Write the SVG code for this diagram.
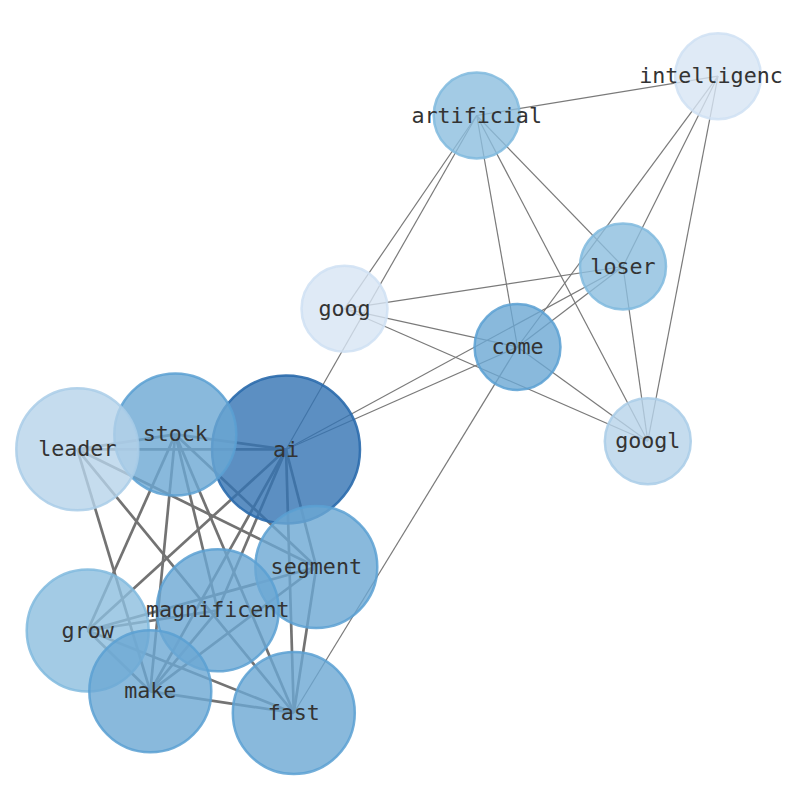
<svg xmlns="http://www.w3.org/2000/svg" width="794" height="790" viewBox="0 0 794 790">
<style>
.bg{fill:#ffffff}
.thin{stroke:#7a7a7a;stroke-width:1.2;fill:none}
.thick{stroke:#737373;stroke-width:2.7;fill:none}
circle{stroke-width:2.5}
.c0{fill:#3373b3;fill-opacity:0.8;stroke:#2a6aac;stroke-opacity:0.9}
.c1{fill:#6ca7d3;fill-opacity:0.8;stroke:#5aa0d2;stroke-opacity:0.85}
.c2{fill:#8cbede;fill-opacity:0.8;stroke:#80bade;stroke-opacity:0.85}
.c3{fill:#b6d3ea;fill-opacity:0.8;stroke:#a9cde7;stroke-opacity:0.85}
.c4{fill:#d7e5f4;fill-opacity:0.8;stroke:#cfe1f3;stroke-opacity:0.85}
text{font-family:"DejaVu Sans Mono","Liberation Mono",monospace;font-size:21.7px;fill:#333333;text-anchor:middle}
</style>
<rect class="bg" x="0" y="0" width="794" height="790"/>
<g id="edges">
<line class="thin" x1="476.7" y1="115.5" x2="718" y2="76.2"/>
<line class="thin" x1="476.7" y1="115.5" x2="344.5" y2="308.8"/>
<line class="thin" x1="476.7" y1="115.5" x2="286" y2="449.5"/>
<line class="thin" x1="476.7" y1="115.5" x2="517.5" y2="347"/>
<line class="thin" x1="476.7" y1="115.5" x2="647.8" y2="441.2"/>
<line class="thin" x1="476.7" y1="115.5" x2="623" y2="266.5"/>
<line class="thin" x1="718" y1="76.2" x2="517.5" y2="347"/>
<line class="thin" x1="718" y1="76.2" x2="623" y2="266.5"/>
<line class="thin" x1="718" y1="76.2" x2="647.8" y2="441.2"/>
<line class="thin" x1="623" y1="266.5" x2="344.5" y2="308.8"/>
<line class="thin" x1="623" y1="266.5" x2="286" y2="449.5"/>
<line class="thin" x1="623" y1="266.5" x2="517.5" y2="347"/>
<line class="thin" x1="623" y1="266.5" x2="647.8" y2="441.2"/>
<line class="thin" x1="344.5" y1="308.8" x2="517.5" y2="347"/>
<line class="thin" x1="344.5" y1="308.8" x2="647.8" y2="441.2"/>
<line class="thin" x1="517.5" y1="347" x2="647.8" y2="441.2"/>
<line class="thin" x1="517.5" y1="347" x2="286" y2="449.5"/>
<line class="thin" x1="517.5" y1="347" x2="293.8" y2="713"/>
<line class="thick" x1="77.3" y1="449.3" x2="175.3" y2="434.4"/>
<line class="thick" x1="77.3" y1="449.3" x2="286" y2="449.5"/>
<line class="thick" x1="77.3" y1="449.3" x2="316.3" y2="567"/>
<line class="thick" x1="77.3" y1="449.3" x2="293.8" y2="713"/>
<line class="thick" x1="77.3" y1="449.3" x2="150.3" y2="691.3"/>
<line class="thick" x1="175.3" y1="434.4" x2="286" y2="449.5"/>
<line class="thick" x1="175.3" y1="434.4" x2="87.7" y2="630.5"/>
<line class="thick" x1="175.3" y1="434.4" x2="150.3" y2="691.3"/>
<line class="thick" x1="175.3" y1="434.4" x2="217.7" y2="610.3"/>
<line class="thick" x1="175.3" y1="434.4" x2="293.8" y2="713"/>
<line class="thick" x1="175.3" y1="434.4" x2="316.3" y2="567"/>
<line class="thick" x1="286" y1="449.5" x2="87.7" y2="630.5"/>
<line class="thick" x1="286" y1="449.5" x2="150.3" y2="691.3"/>
<line class="thick" x1="286" y1="449.5" x2="217.7" y2="610.3"/>
<line class="thick" x1="286" y1="449.5" x2="316.3" y2="567"/>
<line class="thick" x1="286" y1="449.5" x2="293.8" y2="713"/>
<line class="thick" x1="316.3" y1="567" x2="87.7" y2="630.5"/>
<line class="thick" x1="316.3" y1="567" x2="150.3" y2="691.3"/>
<line class="thick" x1="316.3" y1="567" x2="293.8" y2="713"/>
<line class="thick" x1="87.7" y1="630.5" x2="217.7" y2="610.3"/>
<line class="thick" x1="87.7" y1="630.5" x2="150.3" y2="691.3"/>
<line class="thick" x1="87.7" y1="630.5" x2="293.8" y2="713"/>
<line class="thick" x1="150.3" y1="691.3" x2="293.8" y2="713"/>
<line class="thick" x1="150.3" y1="691.3" x2="217.7" y2="610.3"/>
</g>
<g id="node-ai"><circle class="c0" cx="286" cy="449.5" r="74"/><text x="286" y="456.5">ai</text></g>
<g id="node-stock"><circle class="c1" cx="175.3" cy="434.4" r="61"/><text x="175.3" y="441.4">stock</text></g>
<g id="node-leader"><circle class="c3" cx="77.3" cy="449.3" r="61"/><text x="77.3" y="456.3">leader</text></g>
<g id="node-segment"><circle class="c1" cx="316.3" cy="567" r="61"/><text x="316.3" y="574">segment</text></g>
<g id="node-magnificent"><circle class="c1" cx="217.7" cy="610.3" r="61"/><text x="217.7" y="617.3">magnificent</text></g>
<g id="node-grow"><circle class="c2" cx="87.7" cy="630.5" r="61"/><text x="87.7" y="637.5">grow</text></g>
<g id="node-make"><circle class="c1" cx="150.3" cy="691.3" r="61"/><text x="150.3" y="698.3">make</text></g>
<g id="node-fast"><circle class="c1" cx="293.8" cy="713" r="61"/><text x="293.8" y="720">fast</text></g>
<g id="node-artificial"><circle class="c2" cx="476.7" cy="115.5" r="43"/><text x="476.7" y="122.5">artificial</text></g>
<g id="node-intelligenc"><circle class="c4" cx="718" cy="76.2" r="43"/><text x="711" y="83.2">intelligenc</text></g>
<g id="node-loser"><circle class="c2" cx="623" cy="266.5" r="43"/><text x="623" y="273.5">loser</text></g>
<g id="node-goog"><circle class="c4" cx="344.5" cy="308.8" r="43"/><text x="344.5" y="315.8">goog</text></g>
<g id="node-come"><circle class="c1" cx="517.5" cy="347" r="43"/><text x="517.5" y="354">come</text></g>
<g id="node-googl"><circle class="c3" cx="647.8" cy="441.2" r="43"/><text x="647.8" y="448.2">googl</text></g>
</svg>
